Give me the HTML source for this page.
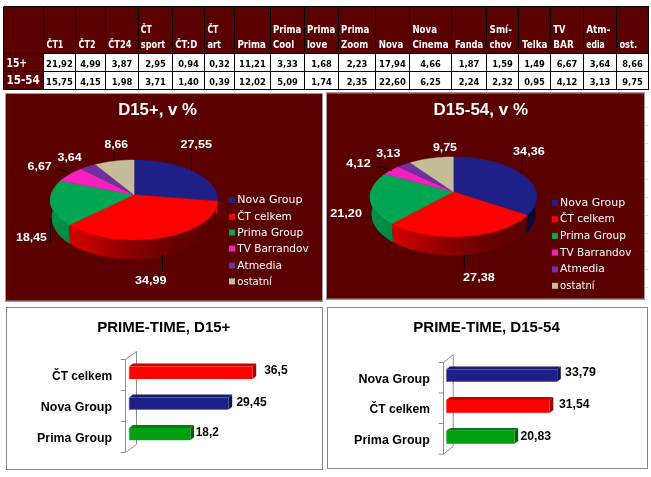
<!DOCTYPE html><html><head><meta charset="utf-8"><title>TV share</title>
<style>html,body{margin:0;padding:0;background:#fff;}svg{display:block}.h{font-family:"DejaVu Sans Condensed","DejaVu Sans","Liberation Sans",sans-serif;font-weight:bold;fill:#fff}.d{font-family:"DejaVu Sans Condensed","DejaVu Sans","Liberation Sans",sans-serif;font-weight:bold;fill:#000}.p{font-family:"Liberation Sans","DejaVu Sans",sans-serif;font-weight:bold;fill:#fff}.l{font-family:"DejaVu Sans","Liberation Sans",sans-serif;fill:#fff}.c{font-family:"Liberation Sans","DejaVu Sans",sans-serif;font-weight:bold;fill:#000}</style></head><body>
<svg width="651" height="477" viewBox="0 0 651 477">
<defs><linearGradient id="sh" x1="0" y1="0" x2="1" y2="0"><stop offset="0" stop-color="#000" stop-opacity="0.12"/><stop offset="0.2" stop-color="#000" stop-opacity="0.22"/><stop offset="0.45" stop-color="#000" stop-opacity="0.44"/><stop offset="0.7" stop-color="#000" stop-opacity="0.58"/><stop offset="1" stop-color="#000" stop-opacity="0.66"/></linearGradient></defs>
<rect width="651" height="477" fill="#fff"/>
<rect x="3.5" y="6.5" width="645.0" height="83.0" fill="#fff"/>
<rect x="3.5" y="6.5" width="645.0" height="47.0" fill="#5a0000"/>
<rect x="3.5" y="6.5" width="40.0" height="83.0" fill="#5a0000"/>
<path fill="none" stroke="#000" stroke-width="1" shape-rendering="crispEdges" d="M3.5 6.5V89.5M43.5 6.5V89.5M75.5 6.5V89.5M105.5 6.5V89.5M138.5 6.5V89.5M172.5 6.5V89.5M204.5 6.5V89.5M234.5 6.5V89.5M270.5 6.5V89.5M304.5 6.5V89.5M338.5 6.5V89.5M375.5 6.5V89.5M409.5 6.5V89.5M451.5 6.5V89.5M486.5 6.5V89.5M518.5 6.5V89.5M550.5 6.5V89.5M583.5 6.5V89.5M616.5 6.5V89.5M648.5 6.5V89.5M3.5 6.5H648.5M3.5 53.5H648.5M3.5 71.5H648.5M3.5 89.5H648.5"/>
<text class="h" x="46.6" y="47.5" font-size="10.7" textLength="16.7" lengthAdjust="spacingAndGlyphs">ČT1</text>
<text class="h" x="78.6" y="47.5" font-size="10.7" textLength="16.9" lengthAdjust="spacingAndGlyphs">ČT2</text>
<text class="h" x="108.3" y="47.5" font-size="10.7" textLength="23.1" lengthAdjust="spacingAndGlyphs">ČT24</text>
<text class="h" x="140.8" y="32.8" font-size="10.7" textLength="11.0" lengthAdjust="spacingAndGlyphs">ČT</text>
<text class="h" x="140.8" y="47.5" font-size="10.7" textLength="24.5" lengthAdjust="spacingAndGlyphs">sport</text>
<text class="h" x="175.2" y="47.5" font-size="10.7" textLength="22.1" lengthAdjust="spacingAndGlyphs">ČT:D</text>
<text class="h" x="207.4" y="32.8" font-size="10.7" textLength="11.0" lengthAdjust="spacingAndGlyphs">ČT</text>
<text class="h" x="207.4" y="47.5" font-size="10.7" textLength="13.5" lengthAdjust="spacingAndGlyphs">art</text>
<text class="h" x="237.4" y="47.5" font-size="10.7" textLength="28.5" lengthAdjust="spacingAndGlyphs">Prima</text>
<text class="h" x="273.0" y="32.8" font-size="10.7" textLength="28.3" lengthAdjust="spacingAndGlyphs">Prima</text>
<text class="h" x="273.0" y="47.5" font-size="10.7" textLength="21.1" lengthAdjust="spacingAndGlyphs">Cool</text>
<text class="h" x="306.9" y="32.8" font-size="10.7" textLength="28.3" lengthAdjust="spacingAndGlyphs">Prima</text>
<text class="h" x="306.9" y="47.5" font-size="10.7" textLength="20.4" lengthAdjust="spacingAndGlyphs">love</text>
<text class="h" x="341.1" y="32.8" font-size="10.7" textLength="28.3" lengthAdjust="spacingAndGlyphs">Prima</text>
<text class="h" x="341.1" y="47.5" font-size="10.7" textLength="27.1" lengthAdjust="spacingAndGlyphs">Zoom</text>
<text class="h" x="378.7" y="47.5" font-size="10.7" textLength="24.6" lengthAdjust="spacingAndGlyphs">Nova</text>
<text class="h" x="412.4" y="32.8" font-size="10.7" textLength="24.6" lengthAdjust="spacingAndGlyphs">Nova</text>
<text class="h" x="412.4" y="47.5" font-size="10.7" textLength="36.1" lengthAdjust="spacingAndGlyphs">Cinema</text>
<text class="h" x="454.9" y="47.5" font-size="10.7" textLength="28.3" lengthAdjust="spacingAndGlyphs">Fanda</text>
<text class="h" x="489.6" y="32.8" font-size="10.7" textLength="22.2" lengthAdjust="spacingAndGlyphs">Smí-</text>
<text class="h" x="489.6" y="47.5" font-size="10.7" textLength="22.2" lengthAdjust="spacingAndGlyphs">chov</text>
<text class="h" x="522.0" y="47.5" font-size="10.7" textLength="25.5" lengthAdjust="spacingAndGlyphs">Telka</text>
<text class="h" x="553.3" y="32.8" font-size="10.7" textLength="12.0" lengthAdjust="spacingAndGlyphs">TV</text>
<text class="h" x="553.3" y="47.5" font-size="10.7" textLength="20.4" lengthAdjust="spacingAndGlyphs">BAR</text>
<text class="h" x="586.2" y="32.8" font-size="10.7" textLength="24.2" lengthAdjust="spacingAndGlyphs">Atm-</text>
<text class="h" x="586.2" y="47.5" font-size="10.7" textLength="18.6" lengthAdjust="spacingAndGlyphs">edia</text>
<text class="h" x="619.4" y="47.5" font-size="10.7" textLength="17.8" lengthAdjust="spacingAndGlyphs">ost.</text>
<text class="h" x="6.5" y="66.7" font-size="12.3" textLength="20.6" lengthAdjust="spacingAndGlyphs">15+</text>
<text class="h" x="6.5" y="84.4" font-size="12.3" textLength="33.3" lengthAdjust="spacingAndGlyphs">15-54</text>
<text class="d" x="59.5" y="66.5" font-size="9.0" text-anchor="middle" textLength="26.8" lengthAdjust="spacingAndGlyphs">21,92</text>
<text class="d" x="59.5" y="84.9" font-size="9.0" text-anchor="middle" textLength="26.8" lengthAdjust="spacingAndGlyphs">15,75</text>
<text class="d" x="90.5" y="66.5" font-size="9.0" text-anchor="middle" textLength="20.6" lengthAdjust="spacingAndGlyphs">4,99</text>
<text class="d" x="90.5" y="84.9" font-size="9.0" text-anchor="middle" textLength="20.6" lengthAdjust="spacingAndGlyphs">4,15</text>
<text class="d" x="122.0" y="66.5" font-size="9.0" text-anchor="middle" textLength="20.6" lengthAdjust="spacingAndGlyphs">3,87</text>
<text class="d" x="122.0" y="84.9" font-size="9.0" text-anchor="middle" textLength="20.6" lengthAdjust="spacingAndGlyphs">1,98</text>
<text class="d" x="155.5" y="66.5" font-size="9.0" text-anchor="middle" textLength="20.6" lengthAdjust="spacingAndGlyphs">2,95</text>
<text class="d" x="155.5" y="84.9" font-size="9.0" text-anchor="middle" textLength="20.6" lengthAdjust="spacingAndGlyphs">3,71</text>
<text class="d" x="188.5" y="66.5" font-size="9.0" text-anchor="middle" textLength="20.6" lengthAdjust="spacingAndGlyphs">0,94</text>
<text class="d" x="188.5" y="84.9" font-size="9.0" text-anchor="middle" textLength="20.6" lengthAdjust="spacingAndGlyphs">1,40</text>
<text class="d" x="219.5" y="66.5" font-size="9.0" text-anchor="middle" textLength="20.6" lengthAdjust="spacingAndGlyphs">0,32</text>
<text class="d" x="219.5" y="84.9" font-size="9.0" text-anchor="middle" textLength="20.6" lengthAdjust="spacingAndGlyphs">0,39</text>
<text class="d" x="252.5" y="66.5" font-size="9.0" text-anchor="middle" textLength="26.8" lengthAdjust="spacingAndGlyphs">11,21</text>
<text class="d" x="252.5" y="84.9" font-size="9.0" text-anchor="middle" textLength="26.8" lengthAdjust="spacingAndGlyphs">12,02</text>
<text class="d" x="287.5" y="66.5" font-size="9.0" text-anchor="middle" textLength="20.6" lengthAdjust="spacingAndGlyphs">3,33</text>
<text class="d" x="287.5" y="84.9" font-size="9.0" text-anchor="middle" textLength="20.6" lengthAdjust="spacingAndGlyphs">5,09</text>
<text class="d" x="321.5" y="66.5" font-size="9.0" text-anchor="middle" textLength="20.6" lengthAdjust="spacingAndGlyphs">1,68</text>
<text class="d" x="321.5" y="84.9" font-size="9.0" text-anchor="middle" textLength="20.6" lengthAdjust="spacingAndGlyphs">1,74</text>
<text class="d" x="357.0" y="66.5" font-size="9.0" text-anchor="middle" textLength="20.6" lengthAdjust="spacingAndGlyphs">2,23</text>
<text class="d" x="357.0" y="84.9" font-size="9.0" text-anchor="middle" textLength="20.6" lengthAdjust="spacingAndGlyphs">2,35</text>
<text class="d" x="392.5" y="66.5" font-size="9.0" text-anchor="middle" textLength="26.8" lengthAdjust="spacingAndGlyphs">17,94</text>
<text class="d" x="392.5" y="84.9" font-size="9.0" text-anchor="middle" textLength="26.8" lengthAdjust="spacingAndGlyphs">22,60</text>
<text class="d" x="430.5" y="66.5" font-size="9.0" text-anchor="middle" textLength="20.6" lengthAdjust="spacingAndGlyphs">4,66</text>
<text class="d" x="430.5" y="84.9" font-size="9.0" text-anchor="middle" textLength="20.6" lengthAdjust="spacingAndGlyphs">6,25</text>
<text class="d" x="469.0" y="66.5" font-size="9.0" text-anchor="middle" textLength="20.6" lengthAdjust="spacingAndGlyphs">1,87</text>
<text class="d" x="469.0" y="84.9" font-size="9.0" text-anchor="middle" textLength="20.6" lengthAdjust="spacingAndGlyphs">2,24</text>
<text class="d" x="502.5" y="66.5" font-size="9.0" text-anchor="middle" textLength="20.6" lengthAdjust="spacingAndGlyphs">1,59</text>
<text class="d" x="502.5" y="84.9" font-size="9.0" text-anchor="middle" textLength="20.6" lengthAdjust="spacingAndGlyphs">2,32</text>
<text class="d" x="534.5" y="66.5" font-size="9.0" text-anchor="middle" textLength="20.6" lengthAdjust="spacingAndGlyphs">1,49</text>
<text class="d" x="534.5" y="84.9" font-size="9.0" text-anchor="middle" textLength="20.6" lengthAdjust="spacingAndGlyphs">0,95</text>
<text class="d" x="567.0" y="66.5" font-size="9.0" text-anchor="middle" textLength="20.6" lengthAdjust="spacingAndGlyphs">6,67</text>
<text class="d" x="567.0" y="84.9" font-size="9.0" text-anchor="middle" textLength="20.6" lengthAdjust="spacingAndGlyphs">4,12</text>
<text class="d" x="600.0" y="66.5" font-size="9.0" text-anchor="middle" textLength="20.6" lengthAdjust="spacingAndGlyphs">3,64</text>
<text class="d" x="600.0" y="84.9" font-size="9.0" text-anchor="middle" textLength="20.6" lengthAdjust="spacingAndGlyphs">3,13</text>
<text class="d" x="632.5" y="66.5" font-size="9.0" text-anchor="middle" textLength="20.6" lengthAdjust="spacingAndGlyphs">8,66</text>
<text class="d" x="632.5" y="84.9" font-size="9.0" text-anchor="middle" textLength="20.6" lengthAdjust="spacingAndGlyphs">9,75</text>
<rect x="5" y="93" width="318" height="208.5" fill="#5a0000"/>
<rect x="5.5" y="93.5" width="317" height="207.5" fill="none" stroke="#a89c9c" stroke-width="1"/>
<path d="M216.73 193.07 L217.25 194.66 L217.63 196.26 L217.88 197.87 L217.99 199.50 L217.97 201.13 L216.50 219.04 L216.54 217.34 L216.44 215.65 L216.20 213.97 L215.83 212.30 L215.33 210.65Z" fill="#1f2087"/>
<path d="M217.97 201.13 L217.83 202.55 L217.59 203.97 L217.24 205.39 L216.78 206.81 L216.21 208.23 L215.53 209.64 L214.74 211.05 L213.83 212.45 L212.82 213.84 L211.70 215.21 L210.46 216.57 L209.11 217.92 L207.66 219.24 L206.09 220.54 L204.41 221.82 L202.63 223.07 L200.75 224.30 L198.75 225.49 L196.66 226.65 L194.47 227.78 L192.18 228.87 L189.80 229.91 L187.32 230.92 L184.76 231.88 L182.12 232.80 L179.39 233.67 L176.59 234.49 L173.71 235.26 L170.77 235.98 L167.77 236.64 L164.70 237.24 L161.59 237.79 L158.42 238.28 L155.21 238.71 L151.97 239.08 L148.69 239.39 L145.39 239.64 L142.07 239.82 L138.73 239.94 L135.39 240.00 L132.04 239.99 L128.70 239.92 L125.37 239.78 L122.05 239.59 L118.75 239.33 L115.49 239.00 L112.25 238.62 L109.05 238.18 L105.90 237.67 L102.79 237.11 L99.74 236.49 L96.75 235.82 L93.82 235.09 L90.96 234.31 L88.18 233.48 L85.47 232.60 L82.84 231.67 L80.30 230.69 L77.85 229.68 L75.49 228.62 L73.22 227.52 L71.05 226.39 L68.98 225.22 L70.20 244.08 L72.24 245.29 L74.37 246.47 L76.60 247.60 L78.92 248.70 L81.33 249.75 L83.83 250.76 L86.40 251.73 L89.06 252.64 L91.80 253.50 L94.60 254.31 L97.47 255.07 L100.41 255.76 L103.40 256.41 L106.45 256.99 L109.54 257.51 L112.68 257.97 L115.85 258.37 L119.05 258.70 L122.29 258.97 L125.54 259.17 L128.81 259.31 L132.08 259.39 L135.36 259.40 L138.64 259.34 L141.91 259.21 L145.17 259.02 L148.41 258.77 L151.62 258.45 L154.80 258.07 L157.95 257.62 L161.05 257.11 L164.11 256.54 L167.11 255.92 L170.06 255.23 L172.95 254.49 L175.77 253.69 L178.52 252.84 L181.19 251.94 L183.79 250.99 L186.31 249.99 L188.74 248.95 L191.08 247.86 L193.33 246.73 L195.48 245.56 L197.54 244.36 L199.50 243.12 L201.35 241.85 L203.11 240.55 L204.76 239.22 L206.30 237.87 L207.73 236.49 L209.06 235.10 L210.28 233.68 L211.39 232.25 L212.39 230.81 L213.29 229.36 L214.07 227.89 L214.74 226.42 L215.31 224.95 L215.77 223.47 L216.12 221.99 L216.36 220.52 L216.50 219.04Z" fill="#ff0000"/>
<path d="M68.98 225.22 L66.97 223.99 L65.06 222.73 L63.27 221.44 L61.58 220.12 L60.02 218.77 L58.56 217.41 L57.23 216.03 L56.01 214.62 L54.91 213.21 L53.92 211.78 L53.05 210.34 L52.30 208.90 L51.67 207.44 L51.15 205.99 L50.74 204.53 L50.45 203.08 L50.27 201.62 L50.20 200.18 L50.24 198.74 L50.39 197.30 L50.65 195.88 L51.01 194.47 L51.47 193.07 L52.87 210.65 L52.42 212.11 L52.08 213.58 L51.83 215.06 L51.69 216.55 L51.66 218.05 L51.73 219.55 L51.92 221.07 L52.21 222.58 L52.61 224.09 L53.13 225.61 L53.76 227.12 L54.51 228.62 L55.37 230.12 L56.34 231.60 L57.43 233.07 L58.63 234.53 L59.95 235.97 L61.38 237.38 L62.93 238.78 L64.58 240.15 L66.35 241.49 L68.22 242.80 L70.20 244.08Z" fill="#00a651"/>
<path d="M216.73 193.07 L217.19 194.44 L217.54 195.82 L217.80 197.22 L217.95 198.62 L218.00 200.03 L217.95 201.45 L217.78 202.87 L217.51 204.30 L217.14 205.72 L216.65 207.15 L216.05 208.57 L215.34 209.99 L214.52 211.40 L213.59 212.80 L212.54 214.19 L211.38 215.57 L210.11 216.93 L208.73 218.28 L207.24 219.60 L205.63 220.90 L203.92 222.18 L202.10 223.43 L200.18 224.65 L198.15 225.84 L196.01 226.99 L193.78 228.11 L191.46 229.19 L189.03 230.23 L186.52 231.23 L183.92 232.18 L181.24 233.09 L178.48 233.95 L175.64 234.75 L172.73 235.51 L169.75 236.21 L166.72 236.85 L163.62 237.44 L160.47 237.97 L157.28 238.44 L154.05 238.85 L150.78 239.20 L147.48 239.49 L144.15 239.71 L140.81 239.87 L137.46 239.97 L134.10 240.00 L130.74 239.97 L127.39 239.87 L124.05 239.71 L120.72 239.49 L117.42 239.20 L114.15 238.85 L110.92 238.44 L107.73 237.97 L104.58 237.44 L101.48 236.85 L98.45 236.21 L95.47 235.51 L92.56 234.75 L89.72 233.95 L86.96 233.09 L84.28 232.18 L81.68 231.23 L79.17 230.23 L76.74 229.19 L74.42 228.11 L72.19 226.99 L70.05 225.84 L68.02 224.65 L66.10 223.43 L64.28 222.18 L62.57 220.90 L60.96 219.60 L59.47 218.28 L58.09 216.93 L56.82 215.57 L55.66 214.19 L54.61 212.80 L53.68 211.40 L52.86 209.99 L52.15 208.57 L51.55 207.15 L51.06 205.72 L50.69 204.30 L50.42 202.87 L50.25 201.45 L50.20 200.03 L50.25 198.62 L50.40 197.22 L50.66 195.82 L51.01 194.44 L51.47 193.07 L52.87 210.65 L52.43 212.08 L52.09 213.52 L51.84 214.97 L51.70 216.43 L51.66 217.89 L51.72 219.37 L51.88 220.85 L52.15 222.33 L52.53 223.82 L53.02 225.30 L53.61 226.78 L54.31 228.25 L55.13 229.72 L56.05 231.18 L57.08 232.62 L58.23 234.06 L59.48 235.47 L60.84 236.87 L62.32 238.24 L63.89 239.59 L65.58 240.92 L67.37 242.22 L69.26 243.48 L71.26 244.72 L73.35 245.92 L75.55 247.08 L77.83 248.20 L80.21 249.28 L82.68 250.31 L85.23 251.30 L87.87 252.24 L90.58 253.13 L93.36 253.96 L96.22 254.74 L99.14 255.47 L102.12 256.14 L105.15 256.75 L108.24 257.30 L111.37 257.79 L114.54 258.21 L117.75 258.57 L120.99 258.87 L124.24 259.10 L127.52 259.27 L130.81 259.37 L134.10 259.40 L137.39 259.37 L140.68 259.27 L143.96 259.10 L147.21 258.87 L150.45 258.57 L153.66 258.21 L156.83 257.79 L159.96 257.30 L163.05 256.75 L166.08 256.14 L169.06 255.47 L171.98 254.74 L174.84 253.96 L177.62 253.13 L180.33 252.24 L182.97 251.30 L185.52 250.31 L187.99 249.28 L190.37 248.20 L192.65 247.08 L194.85 245.92 L196.94 244.72 L198.94 243.48 L200.83 242.22 L202.62 240.92 L204.31 239.59 L205.88 238.24 L207.36 236.87 L208.72 235.47 L209.97 234.06 L211.12 232.62 L212.15 231.18 L213.07 229.72 L213.89 228.25 L214.59 226.78 L215.18 225.30 L215.67 223.82 L216.05 222.33 L216.32 220.85 L216.48 219.37 L216.54 217.89 L216.50 216.43 L216.36 214.97 L216.11 213.52 L215.77 212.08 L215.33 210.65Z" fill="url(#sh)" stroke="url(#sh)" stroke-width="0.35"/>
<path d="M134.10 194.70 L134.10 160.00 L136.69 160.02 L139.29 160.08 L141.88 160.17 L144.46 160.31 L147.03 160.48 L149.59 160.69 L152.15 160.94 L154.68 161.22 L157.20 161.55 L159.70 161.91 L162.18 162.31 L164.63 162.74 L167.06 163.22 L169.46 163.73 L171.83 164.27 L174.17 164.86 L176.48 165.48 L178.75 166.13 L180.98 166.83 L183.16 167.55 L185.31 168.31 L187.40 169.11 L189.45 169.94 L191.45 170.80 L193.40 171.70 L195.29 172.63 L197.12 173.59 L198.89 174.59 L200.60 175.61 L202.24 176.66 L203.82 177.75 L205.32 178.86 L206.76 180.00 L208.12 181.17 L209.40 182.36 L210.60 183.58 L211.72 184.82 L212.76 186.08 L213.71 187.37 L214.57 188.67 L215.34 190.00 L216.01 191.34 L216.59 192.71 L217.08 194.08 L217.46 195.47 L217.74 196.87 L217.92 198.28 L218.00 199.70 L217.97 201.13Z" fill="#1f2087" stroke="#1f2087" stroke-width="0.4" stroke-linejoin="round"/>
<path d="M134.10 194.70 L217.97 201.13 L217.83 202.55 L217.59 203.97 L217.24 205.39 L216.78 206.81 L216.21 208.23 L215.53 209.64 L214.74 211.05 L213.83 212.45 L212.82 213.84 L211.70 215.21 L210.46 216.57 L209.11 217.92 L207.66 219.24 L206.09 220.54 L204.41 221.82 L202.63 223.07 L200.75 224.30 L198.75 225.49 L196.66 226.65 L194.47 227.78 L192.18 228.87 L189.80 229.91 L187.32 230.92 L184.76 231.88 L182.12 232.80 L179.39 233.67 L176.59 234.49 L173.71 235.26 L170.77 235.98 L167.77 236.64 L164.70 237.24 L161.59 237.79 L158.42 238.28 L155.21 238.71 L151.97 239.08 L148.69 239.39 L145.39 239.64 L142.07 239.82 L138.73 239.94 L135.39 240.00 L132.04 239.99 L128.70 239.92 L125.37 239.78 L122.05 239.59 L118.75 239.33 L115.49 239.00 L112.25 238.62 L109.05 238.18 L105.90 237.67 L102.79 237.11 L99.74 236.49 L96.75 235.82 L93.82 235.09 L90.96 234.31 L88.18 233.48 L85.47 232.60 L82.84 231.67 L80.30 230.69 L77.85 229.68 L75.49 228.62 L73.22 227.52 L71.05 226.39 L68.98 225.22Z" fill="#ff0000" stroke="#ff0000" stroke-width="0.4" stroke-linejoin="round"/>
<path d="M134.10 194.70 L68.98 225.22 L67.00 224.01 L65.13 222.77 L63.36 221.51 L61.70 220.21 L60.15 218.90 L58.71 217.56 L57.39 216.20 L56.18 214.83 L55.07 213.44 L54.09 212.04 L53.21 210.62 L52.45 209.21 L51.80 207.78 L51.26 206.35 L50.84 204.92 L50.52 203.49 L50.31 202.06 L50.21 200.64 L50.22 199.22 L50.33 197.81 L50.54 196.41 L50.85 195.02 L51.27 193.64 L51.78 192.28 L52.38 190.93 L53.08 189.60 L53.88 188.29 L54.76 186.99 L55.73 185.72 L56.78 184.47 L57.92 183.24 L59.13 182.04 L60.43 180.86Z" fill="#00a651" stroke="#00a651" stroke-width="0.4" stroke-linejoin="round"/>
<path d="M134.10 194.70 L60.43 180.86 L61.79 179.71 L63.23 178.59 L64.73 177.50 L66.30 176.44 L67.94 175.40 L69.65 174.39 L71.41 173.42 L73.23 172.47 L75.11 171.56 L77.04 170.68 L79.02 169.83 L81.05 169.01Z" fill="#f520c0" stroke="#f520c0" stroke-width="0.4" stroke-linejoin="round"/>
<path d="M134.10 194.70 L81.05 169.01 L83.32 168.16 L85.65 167.34 L88.02 166.57 L90.45 165.84 L92.91 165.15 L95.42 164.50Z" fill="#7030a0" stroke="#7030a0" stroke-width="0.4" stroke-linejoin="round"/>
<path d="M134.10 194.70 L95.42 164.50 L97.84 163.93 L100.30 163.39 L102.78 162.89 L105.29 162.43 L107.83 162.01 L110.39 161.63 L112.98 161.29 L115.58 160.99 L118.19 160.73 L120.82 160.50 L123.47 160.32 L126.12 160.18 L128.77 160.08 L131.44 160.02 L134.10 160.00Z" fill="#c4bd97" stroke="#c4bd97" stroke-width="0.4" stroke-linejoin="round"/>
<text class="p" x="118.2" y="115.0" font-size="16.2" textLength="78.7" lengthAdjust="spacingAndGlyphs">D15+, v %</text>
<text class="p" x="180.5" y="148.2" font-size="11.6" textLength="31.6" lengthAdjust="spacingAndGlyphs">27,55</text>
<text class="p" x="104.5" y="147.7" font-size="11.6" textLength="23.6" lengthAdjust="spacingAndGlyphs">8,66</text>
<text class="p" x="57.5" y="160.8" font-size="11.6" textLength="24.2" lengthAdjust="spacingAndGlyphs">3,64</text>
<text class="p" x="27.6" y="169.7" font-size="11.6" textLength="24.2" lengthAdjust="spacingAndGlyphs">6,67</text>
<text class="p" x="16.1" y="240.6" font-size="11.6" textLength="30.7" lengthAdjust="spacingAndGlyphs">18,45</text>
<text class="p" x="135.0" y="283.5" font-size="11.6" textLength="31.6" lengthAdjust="spacingAndGlyphs">34,99</text>
<path fill="none" stroke="#000" stroke-width="1" d="M191.3 152.3V170.5 M113.7 150V160.8 M55.1 169.3L60.6 169.4L69.8 173.6 M51 218.2L50.4 241.4 M162.4 255.1V271.7"/>
<rect x="229" y="197.0" width="6" height="6" fill="#1f2087"/>
<text class="l" x="237.3" y="203.1" font-size="10.4" textLength="65.1" lengthAdjust="spacingAndGlyphs">Nova Group</text>
<rect x="229" y="213.8" width="6" height="6" fill="#ff0000"/>
<text class="l" x="237.3" y="219.9" font-size="10.4" textLength="54.5" lengthAdjust="spacingAndGlyphs">ČT celkem</text>
<rect x="229" y="229.5" width="6" height="6" fill="#00a651"/>
<text class="l" x="237.3" y="235.6" font-size="10.4" textLength="65.8" lengthAdjust="spacingAndGlyphs">Prima Group</text>
<rect x="229" y="245.6" width="6" height="6" fill="#f520c0"/>
<text class="l" x="237.3" y="251.7" font-size="10.4" textLength="71.3" lengthAdjust="spacingAndGlyphs">TV Barrandov</text>
<rect x="229" y="262.5" width="6" height="6" fill="#7030a0"/>
<text class="l" x="237.3" y="268.6" font-size="10.4" textLength="44.8" lengthAdjust="spacingAndGlyphs">Atmedia</text>
<rect x="229" y="278.4" width="6" height="6" fill="#c4bd97"/>
<text class="l" x="237.3" y="284.5" font-size="10.4" textLength="34.5" lengthAdjust="spacingAndGlyphs">ostatní</text>
<rect x="326" y="92.5" width="319" height="207.0" fill="#5a0000"/>
<rect x="326.5" y="93.0" width="318" height="206.0" fill="none" stroke="#a89c9c" stroke-width="1"/>
<path d="M535.54 189.93 L536.00 191.31 L536.35 192.71 L536.60 194.11 L536.75 195.53 L536.80 196.95 L536.74 198.38 L536.57 199.81 L536.29 201.25 L535.91 202.68 L535.41 204.12 L534.80 205.55 L534.08 206.98 L533.24 208.40 L532.29 209.81 L531.23 211.20 L530.06 212.59 L528.77 213.96 L527.37 215.30 L526.05 233.28 L527.43 231.88 L528.70 230.47 L529.86 229.03 L530.91 227.59 L531.85 226.13 L532.68 224.66 L533.39 223.18 L534.00 221.69 L534.49 220.21 L534.88 218.72 L535.16 217.23 L535.33 215.74 L535.40 214.26 L535.36 212.79 L535.22 211.32 L534.97 209.86 L534.63 208.42 L534.19 206.98Z" fill="#1f2087"/>
<path d="M527.37 215.30 L525.87 216.62 L524.26 217.92 L522.55 219.18 L520.73 220.43 L518.80 221.64 L516.78 222.82 L514.65 223.96 L512.42 225.07 L510.10 226.15 L507.69 227.18 L505.19 228.16 L502.60 229.11 L499.94 230.00 L497.19 230.85 L494.37 231.65 L491.48 232.39 L488.52 233.08 L485.51 233.72 L482.44 234.30 L479.32 234.82 L476.15 235.28 L472.94 235.69 L469.70 236.03 L466.44 236.31 L463.14 236.53 L459.83 236.68 L456.51 236.77 L453.19 236.80 L449.86 236.76 L446.54 236.66 L443.23 236.50 L439.95 236.28 L436.68 235.99 L433.44 235.64 L430.24 235.23 L427.08 234.76 L423.97 234.23 L420.90 233.64 L417.89 233.00 L414.95 232.30 L412.07 231.55 L409.26 230.74 L406.52 229.89 L403.86 228.99 L401.28 228.04 L398.79 227.05 L396.39 226.01 L394.09 224.93 L391.87 223.82 L393.00 242.09 L395.17 243.24 L397.44 244.35 L399.80 245.42 L402.25 246.45 L404.78 247.43 L407.39 248.36 L410.08 249.25 L412.84 250.08 L415.67 250.85 L418.56 251.57 L421.51 252.24 L424.52 252.85 L427.58 253.39 L430.68 253.88 L433.82 254.30 L437.00 254.66 L440.20 254.96 L443.43 255.19 L446.67 255.36 L449.93 255.46 L453.19 255.50 L456.45 255.47 L459.71 255.38 L462.96 255.22 L466.19 254.99 L469.40 254.70 L472.58 254.35 L475.72 253.94 L478.83 253.46 L481.89 252.92 L484.91 252.32 L487.87 251.66 L490.77 250.95 L493.61 250.18 L496.38 249.35 L499.07 248.48 L501.69 247.55 L504.24 246.58 L506.69 245.56 L509.06 244.49 L511.34 243.38 L513.53 242.24 L515.62 241.05 L517.62 239.83 L519.51 238.58 L521.31 237.29 L522.99 235.98 L524.58 234.64 L526.05 233.28Z" fill="#ff0000"/>
<path d="M391.87 223.82 L389.76 222.67 L387.74 221.48 L385.83 220.27 L384.02 219.02 L382.32 217.75 L380.73 216.45 L379.24 215.13 L377.87 213.79 L376.60 212.43 L375.45 211.05 L374.41 209.67 L373.48 208.27 L372.66 206.86 L371.95 205.44 L371.35 204.02 L370.87 202.59 L370.49 201.16 L370.22 199.74 L370.06 198.32 L370.00 196.90 L370.05 195.49 L370.20 194.08 L370.45 192.69 L370.81 191.30 L371.26 189.93 L372.61 206.98 L372.17 208.41 L371.83 209.84 L371.59 211.29 L371.44 212.74 L371.40 214.21 L371.46 215.68 L371.63 217.15 L371.90 218.63 L372.28 220.11 L372.76 221.59 L373.36 223.06 L374.06 224.53 L374.87 225.99 L375.79 227.44 L376.82 228.88 L377.96 230.30 L379.20 231.71 L380.56 233.10 L382.02 234.46 L383.59 235.81 L385.27 237.12 L387.05 238.41 L388.93 239.67 L390.91 240.90 L393.00 242.09Z" fill="#00a651"/>
<path d="M535.54 189.93 L535.99 191.31 L536.35 192.69 L536.60 194.09 L536.75 195.49 L536.80 196.91 L536.74 198.33 L536.58 199.75 L536.31 201.18 L535.93 202.61 L535.44 204.03 L534.84 205.46 L534.13 206.88 L533.31 208.29 L532.38 209.69 L531.33 211.08 L530.17 212.46 L528.91 213.82 L527.53 215.16 L526.04 216.48 L524.44 217.78 L522.73 219.05 L520.92 220.30 L519.00 221.52 L516.98 222.70 L514.86 223.85 L512.64 224.97 L510.33 226.05 L507.92 227.08 L505.42 228.08 L502.84 229.02 L500.17 229.93 L497.43 230.78 L494.61 231.58 L491.72 232.33 L488.77 233.03 L485.75 233.67 L482.68 234.26 L479.56 234.78 L476.39 235.25 L473.18 235.66 L469.94 236.01 L466.67 236.29 L463.37 236.51 L460.06 236.67 L456.73 236.77 L453.40 236.80 L450.07 236.77 L446.74 236.67 L443.43 236.51 L440.13 236.29 L436.86 236.01 L433.62 235.66 L430.41 235.25 L427.24 234.78 L424.12 234.26 L421.05 233.67 L418.03 233.03 L415.08 232.33 L412.19 231.58 L409.37 230.78 L406.63 229.93 L403.96 229.02 L401.38 228.08 L398.88 227.08 L396.47 226.05 L394.16 224.97 L391.94 223.85 L389.82 222.70 L387.80 221.52 L385.88 220.30 L384.07 219.05 L382.36 217.78 L380.76 216.48 L379.27 215.16 L377.89 213.82 L376.63 212.46 L375.47 211.08 L374.42 209.69 L373.49 208.29 L372.67 206.88 L371.96 205.46 L371.36 204.03 L370.87 202.61 L370.49 201.18 L370.22 199.75 L370.06 198.33 L370.00 196.91 L370.05 195.49 L370.20 194.09 L370.45 192.69 L370.81 191.31 L371.26 189.93 L372.61 206.98 L372.17 208.41 L371.83 209.84 L371.59 211.29 L371.44 212.75 L371.40 214.22 L371.47 215.69 L371.63 217.17 L371.90 218.65 L372.28 220.13 L372.77 221.61 L373.37 223.08 L374.07 224.55 L374.88 226.01 L375.81 227.46 L376.84 228.90 L377.98 230.33 L379.23 231.74 L380.59 233.13 L382.06 234.49 L383.63 235.84 L385.31 237.16 L387.10 238.45 L388.99 239.71 L390.97 240.93 L393.06 242.12 L395.24 243.28 L397.52 244.39 L399.88 245.46 L402.34 246.49 L404.87 247.47 L407.49 248.40 L410.19 249.28 L412.96 250.11 L415.79 250.89 L418.69 251.61 L421.65 252.27 L424.67 252.87 L427.73 253.42 L430.84 253.90 L433.99 254.32 L437.17 254.68 L440.38 254.97 L443.62 255.20 L446.87 255.37 L450.13 255.47 L453.40 255.50 L456.67 255.47 L459.93 255.37 L463.18 255.20 L466.42 254.97 L469.63 254.68 L472.81 254.32 L475.96 253.90 L479.07 253.42 L482.13 252.87 L485.15 252.27 L488.11 251.61 L491.01 250.89 L493.84 250.11 L496.61 249.28 L499.31 248.40 L501.93 247.47 L504.46 246.49 L506.92 245.46 L509.28 244.39 L511.56 243.28 L513.74 242.12 L515.83 240.93 L517.81 239.71 L519.70 238.45 L521.49 237.16 L523.17 235.84 L524.74 234.49 L526.21 233.13 L527.57 231.74 L528.82 230.33 L529.96 228.90 L530.99 227.46 L531.92 226.01 L532.73 224.55 L533.43 223.08 L534.03 221.61 L534.52 220.13 L534.90 218.65 L535.17 217.17 L535.33 215.69 L535.40 214.22 L535.36 212.75 L535.21 211.29 L534.97 209.84 L534.63 208.41 L534.19 206.98Z" fill="url(#sh)" stroke="url(#sh)" stroke-width="0.35"/>
<path d="M453.40 191.80 L453.40 156.90 L456.00 156.92 L458.60 156.98 L461.19 157.07 L463.78 157.21 L466.36 157.39 L468.93 157.60 L471.48 157.85 L474.02 158.14 L476.55 158.47 L479.05 158.84 L481.53 159.24 L483.99 159.68 L486.42 160.16 L488.82 160.68 L491.19 161.24 L493.53 161.83 L495.83 162.46 L498.10 163.12 L500.32 163.82 L502.50 164.56 L504.64 165.33 L506.73 166.14 L508.77 166.98 L510.76 167.85 L512.70 168.76 L514.58 169.70 L516.40 170.67 L518.16 171.67 L519.85 172.71 L521.48 173.77 L523.04 174.87 L524.53 175.99 L525.94 177.14 L527.28 178.31 L528.54 179.52 L529.72 180.74 L530.82 181.99 L531.83 183.27 L532.76 184.56 L533.59 185.87 L534.33 187.21 L534.98 188.56 L535.54 189.92 L535.99 191.30 L536.35 192.70 L536.60 194.10 L536.75 195.52 L536.80 196.94 L536.74 198.37 L536.57 199.81 L536.29 201.24 L535.91 202.68 L535.41 204.12 L534.80 205.55 L534.08 206.98 L533.24 208.39 L532.29 209.80 L531.23 211.20 L530.06 212.59 L528.77 213.95 L527.37 215.30Z" fill="#1f2087" stroke="#1f2087" stroke-width="0.4" stroke-linejoin="round"/>
<path d="M453.40 191.80 L527.37 215.30 L525.87 216.62 L524.26 217.92 L522.55 219.18 L520.73 220.43 L518.80 221.64 L516.78 222.82 L514.65 223.96 L512.42 225.07 L510.10 226.15 L507.69 227.18 L505.19 228.16 L502.60 229.11 L499.94 230.00 L497.19 230.85 L494.37 231.65 L491.48 232.39 L488.52 233.08 L485.51 233.72 L482.44 234.30 L479.32 234.82 L476.15 235.28 L472.94 235.69 L469.70 236.03 L466.44 236.31 L463.14 236.53 L459.83 236.68 L456.51 236.77 L453.19 236.80 L449.86 236.76 L446.54 236.66 L443.23 236.50 L439.95 236.28 L436.68 235.99 L433.44 235.64 L430.24 235.23 L427.08 234.76 L423.97 234.23 L420.90 233.64 L417.89 233.00 L414.95 232.30 L412.07 231.55 L409.26 230.74 L406.52 229.89 L403.86 228.99 L401.28 228.04 L398.79 227.05 L396.39 226.01 L394.09 224.93 L391.87 223.82Z" fill="#ff0000" stroke="#ff0000" stroke-width="0.4" stroke-linejoin="round"/>
<path d="M453.40 191.80 L391.87 223.82 L389.76 222.67 L387.75 221.49 L385.84 220.28 L384.04 219.03 L382.34 217.76 L380.75 216.47 L379.26 215.15 L377.89 213.81 L376.62 212.45 L375.47 211.08 L374.43 209.70 L373.50 208.30 L372.68 206.89 L371.97 205.48 L371.37 204.06 L370.88 202.64 L370.50 201.21 L370.23 199.79 L370.06 198.37 L370.00 196.95 L370.04 195.54 L370.19 194.14 L370.44 192.75 L370.79 191.37 L371.23 190.00 L371.78 188.65 L372.41 187.31 L373.14 185.99 L373.96 184.68 L374.87 183.40 L375.86 182.14 L376.94 180.90 L378.10 179.68 L379.34 178.48 L380.65 177.32 L382.04 176.17 L383.50 175.06 L385.04 173.97Z" fill="#00a651" stroke="#00a651" stroke-width="0.4" stroke-linejoin="round"/>
<path d="M453.40 191.80 L385.04 173.97 L386.73 172.85 L388.49 171.77 L390.32 170.72 L392.22 169.70 L394.19 168.72 L396.21 167.77 L398.30 166.86Z" fill="#f520c0" stroke="#f520c0" stroke-width="0.4" stroke-linejoin="round"/>
<path d="M453.40 191.80 L398.30 166.86 L400.58 165.94 L402.92 165.05 L405.31 164.21 L407.76 163.41 L410.26 162.66Z" fill="#7030a0" stroke="#7030a0" stroke-width="0.4" stroke-linejoin="round"/>
<path d="M453.40 191.80 L410.26 162.66 L412.60 162.01 L414.97 161.39 L417.37 160.82 L419.81 160.28 L422.28 159.79 L424.78 159.33 L427.30 158.91 L429.84 158.53 L432.41 158.19 L434.99 157.89 L437.59 157.62 L440.21 157.40 L442.83 157.22 L445.47 157.08 L448.11 156.98 L450.75 156.92 L453.40 156.90Z" fill="#c4bd97" stroke="#c4bd97" stroke-width="0.4" stroke-linejoin="round"/>
<text class="p" x="433.6" y="115.0" font-size="16.2" textLength="94.4" lengthAdjust="spacingAndGlyphs">D15-54, v %</text>
<text class="p" x="513.1" y="155.4" font-size="11.6" textLength="31.6" lengthAdjust="spacingAndGlyphs">34,36</text>
<text class="p" x="432.9" y="150.9" font-size="11.6" textLength="24.1" lengthAdjust="spacingAndGlyphs">9,75</text>
<text class="p" x="376.2" y="156.7" font-size="11.6" textLength="24.2" lengthAdjust="spacingAndGlyphs">3,13</text>
<text class="p" x="346.3" y="166.8" font-size="11.6" textLength="24.5" lengthAdjust="spacingAndGlyphs">4,12</text>
<text class="p" x="330.2" y="217.0" font-size="11.6" textLength="31.8" lengthAdjust="spacingAndGlyphs">21,20</text>
<text class="p" x="463.1" y="281.1" font-size="11.6" textLength="31.6" lengthAdjust="spacingAndGlyphs">27,38</text>
<path fill="none" stroke="#000" stroke-width="1" d="M521.5 159.7V174.1 M373.3 166.3L380 166.8L391.9 170.6 M366.2 217H371.6 M464.4 254.4V268.7"/>
<rect x="552" y="199.7" width="6" height="6" fill="#1f2087"/>
<text class="l" x="560.1" y="205.7" font-size="10.4" textLength="65.1" lengthAdjust="spacingAndGlyphs">Nova Group</text>
<rect x="552" y="216.3" width="6" height="6" fill="#ff0000"/>
<text class="l" x="560.1" y="222.3" font-size="10.4" textLength="54.5" lengthAdjust="spacingAndGlyphs">ČT celkem</text>
<rect x="552" y="232.9" width="6" height="6" fill="#00a651"/>
<text class="l" x="560.1" y="238.9" font-size="10.4" textLength="65.8" lengthAdjust="spacingAndGlyphs">Prima Group</text>
<rect x="552" y="249.6" width="6" height="6" fill="#f520c0"/>
<text class="l" x="560.1" y="255.6" font-size="10.4" textLength="71.3" lengthAdjust="spacingAndGlyphs">TV Barrandov</text>
<rect x="552" y="266.4" width="6" height="6" fill="#7030a0"/>
<text class="l" x="560.1" y="272.4" font-size="10.4" textLength="44.8" lengthAdjust="spacingAndGlyphs">Atmedia</text>
<rect x="552" y="282.8" width="6" height="6" fill="#c4bd97"/>
<text class="l" x="560.1" y="288.8" font-size="10.4" textLength="34.5" lengthAdjust="spacingAndGlyphs">ostatní</text>
<path d="M645 107.5H648M645 125.5H648M645 143.5H648M645 161.5H648M645 179.5H648M645 197.5H648M645 215.5H648M645 233.5H648M645 251.5H648M645 269.5H648M645 287.5H648" stroke="#dcdcdc" stroke-width="1" fill="none"/>
<rect x="6.5" y="307.5" width="316" height="162" fill="#fff" stroke="#868686" stroke-width="1"/>
<text class="c" x="97.2" y="332.4" font-size="15.4" textLength="133.2" lengthAdjust="spacingAndGlyphs">PRIME-TIME, D15+</text>
<path fill="none" stroke="#8e8e8e" stroke-width="1" d="M125.5 359.5V452.5 M120.7 359.5H125.5 M120.7 390.5H125.5 M120.7 421.5H125.5 M120.7 452.5H125.5 M125.5 359.5L136.5 351.5V444.5L125.5 452.5"/>
<path d="M128.8 366.5L132.4 363.6H256.2L252.6 366.5Z" fill="#c80000"/>
<path d="M252.6 366.5L256.2 363.6V376.1L252.6 379Z" fill="#a00000"/>
<rect x="128.8" y="366.5" width="123.79999999999998" height="12.5" fill="#ff0000"/>
<path d="M128.60000000000002 366.5L132.20000000000002 363.6L133.1 363.6L129.4 366.5V379H128.60000000000002Z" fill="#fff" opacity="0.6"/>
<path d="M128.8 397.5L132.4 394.6H232.2L228.6 397.5Z" fill="#181a6c"/>
<path d="M228.6 397.5L232.2 394.6V406.70000000000005L228.6 409.6Z" fill="#121450"/>
<rect x="128.8" y="397.5" width="99.79999999999998" height="12.100000000000023" fill="#1f2087"/>
<path d="M128.60000000000002 397.5L132.20000000000002 394.6L133.1 394.6L129.4 397.5V409.6H128.60000000000002Z" fill="#fff" opacity="0.6"/>
<path d="M128.8 428L132.4 425.1H194.0L190.4 428Z" fill="#00800c"/>
<path d="M190.4 428L194.0 425.1V437.3L190.4 440.2Z" fill="#006008"/>
<rect x="128.8" y="428" width="61.599999999999994" height="12.199999999999989" fill="#00a010"/>
<path d="M128.60000000000002 428L132.20000000000002 425.1L133.1 425.1L129.4 428V440.2H128.60000000000002Z" fill="#fff" opacity="0.6"/>
<text class="c" x="52.0" y="379.8" font-size="12.2" textLength="60.1" lengthAdjust="spacingAndGlyphs">ČT celkem</text>
<text class="c" x="40.8" y="410.7" font-size="12.2" textLength="71.3" lengthAdjust="spacingAndGlyphs">Nova Group</text>
<text class="c" x="37.1" y="442.2" font-size="12.2" textLength="75.0" lengthAdjust="spacingAndGlyphs">Prima Group</text>
<text class="c" x="264.2" y="374.0" font-size="12.2" textLength="23.4" lengthAdjust="spacingAndGlyphs">36,5</text>
<text class="c" x="236.4" y="406.0" font-size="12.2" textLength="30.2" lengthAdjust="spacingAndGlyphs">29,45</text>
<text class="c" x="195.8" y="436.3" font-size="12.2" textLength="23.0" lengthAdjust="spacingAndGlyphs">18,2</text>
<rect x="327.5" y="307.5" width="320" height="161" fill="#fff" stroke="#868686" stroke-width="1"/>
<text class="c" x="413.2" y="331.8" font-size="15.4" textLength="146.6" lengthAdjust="spacingAndGlyphs">PRIME-TIME, D15-54</text>
<path fill="none" stroke="#8e8e8e" stroke-width="1" d="M443.5 362.5V454.2 M438.7 362.5H443.5 M438.7 393H443.5 M438.7 423.5H443.5 M438.7 454.2H443.5 M443.5 362.5L453.2 354.7V446.4L443.5 454.2"/>
<path d="M446.0 369.3L449.6 366.40000000000003H560.8000000000001L557.2 369.3Z" fill="#181a6c"/>
<path d="M557.2 369.3L560.8000000000001 366.40000000000003V378.8L557.2 381.7Z" fill="#121450"/>
<rect x="446.0" y="369.3" width="111.20000000000005" height="12.399999999999977" fill="#1f2087"/>
<path d="M445.8 369.3L449.40000000000003 366.40000000000003L450.3 366.40000000000003L446.6 369.3V381.7H445.8Z" fill="#fff" opacity="0.6"/>
<path d="M446.0 400L449.6 397.1H553.3000000000001L549.7 400Z" fill="#c80000"/>
<path d="M549.7 400L553.3000000000001 397.1V409.90000000000003L549.7 412.8Z" fill="#a00000"/>
<rect x="446.0" y="400" width="103.70000000000005" height="12.800000000000011" fill="#ff0000"/>
<path d="M445.8 400L449.40000000000003 397.1L450.3 397.1L446.6 400V412.8H445.8Z" fill="#fff" opacity="0.6"/>
<path d="M446.0 430.8L449.6 427.90000000000003H518.2L514.6 430.8Z" fill="#00800c"/>
<path d="M514.6 430.8L518.2 427.90000000000003V440.90000000000003L514.6 443.8Z" fill="#006008"/>
<rect x="446.0" y="430.8" width="68.60000000000002" height="13.0" fill="#00a010"/>
<path d="M445.8 430.8L449.40000000000003 427.90000000000003L450.3 427.90000000000003L446.6 430.8V443.8H445.8Z" fill="#fff" opacity="0.6"/>
<text class="c" x="358.4" y="383.1" font-size="12.2" textLength="71.5" lengthAdjust="spacingAndGlyphs">Nova Group</text>
<text class="c" x="369.5" y="413.0" font-size="12.2" textLength="60.4" lengthAdjust="spacingAndGlyphs">ČT celkem</text>
<text class="c" x="354.1" y="443.5" font-size="12.2" textLength="75.8" lengthAdjust="spacingAndGlyphs">Prima Group</text>
<text class="c" x="565.0" y="375.8" font-size="12.2" textLength="31.0" lengthAdjust="spacingAndGlyphs">33,79</text>
<text class="c" x="559.0" y="407.6" font-size="12.2" textLength="30.5" lengthAdjust="spacingAndGlyphs">31,54</text>
<text class="c" x="520.4" y="439.5" font-size="12.2" textLength="30.6" lengthAdjust="spacingAndGlyphs">20,83</text>
</svg></body></html>
